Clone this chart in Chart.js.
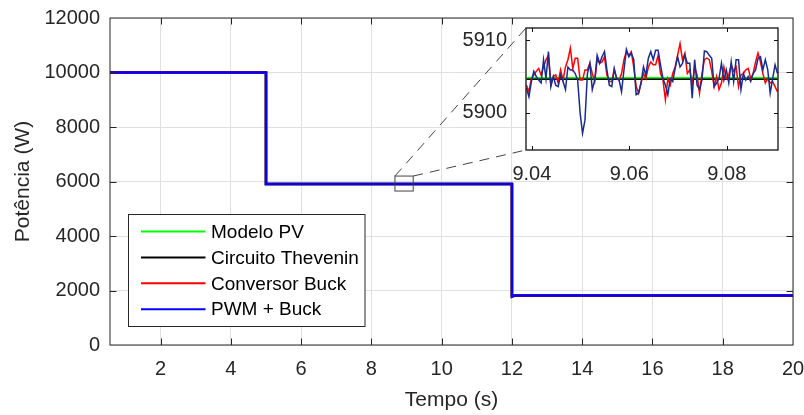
<!DOCTYPE html>
<html><head><meta charset="utf-8">
<script src="https://cdn.jsdelivr.net/npm/chart.js@4/dist/chart.umd.min.js"></script>
<style>
html,body{margin:0;padding:0;background:#fff;}
#wrap{position:relative;width:804px;height:415px;overflow:hidden;}
#main{position:absolute;left:0;top:0;}
#inset{position:absolute;left:460px;top:16px;}
</style></head><body>
<div id="wrap"><canvas id="main" width="804" height="415"></canvas><canvas id="inset" width="330" height="190"></canvas></div>
<script>
// ---------- data ----------
const seriesNames = ['Modelo PV', 'Circuito Thevenin', 'Conversor Buck', 'PWM + Buck'];
const stepTime = [0.5, 5.0, 5.0, 12.0, 12.0, 12.1, 20.0];
const pvModel  = [10000, 10000, 5904.8, 5904.8, 1820, 1820, 1820];
const thevenin = [10000, 10000, 5904.6, 5904.6, 1818, 1818, 1818];
const buck     = [10000, 10000, 5905.0, 5905.0, 1775, 1820, 1820];
const pwmBuck  = [10000, 10000, 5905.0, 5905.0, 1770, 1820, 1820];

const mainXTicks = [2, 4, 6, 8, 10, 12, 14, 16, 18, 20];
const mainYTicks = [0, 2000, 4000, 6000, 8000, 10000, 12000];
const insetXTicks = [9.04, 9.06, 9.08];
const insetYTicks = [5900, 5910];

const insetTime = [
 9.0389, 9.0394, 9.0399, 9.0404, 9.0409, 9.0414, 9.0419, 9.0424, 9.0429, 9.0434,
 9.0439, 9.0444, 9.0449, 9.0454, 9.0459, 9.0464, 9.0469, 9.0474, 9.0479, 9.0484,
 9.0489, 9.0494, 9.0499, 9.0504, 9.0509, 9.0514, 9.0519, 9.0524, 9.0529, 9.0534,
 9.0539, 9.0544, 9.0549, 9.0554, 9.0559, 9.0564, 9.0569, 9.0574, 9.0579, 9.0584,
 9.0589, 9.0594, 9.0599, 9.0604, 9.0609, 9.0614, 9.0619, 9.0624, 9.0629, 9.0634,
 9.0639, 9.0644, 9.0649, 9.0654, 9.0659, 9.0664, 9.0669, 9.0674, 9.0679, 9.0684,
 9.0689, 9.0694, 9.0699, 9.0704, 9.0709, 9.0714, 9.0719, 9.0724, 9.0729, 9.0734,
 9.0739, 9.0744, 9.0749, 9.0754, 9.0759, 9.0764, 9.0769, 9.0774, 9.0779, 9.0784,
 9.0789, 9.0794, 9.0799, 9.0804, 9.0809, 9.0814, 9.0819, 9.0824, 9.0829, 9.0834,
 9.0839, 9.0844, 9.0849, 9.0854, 9.0859, 9.0864, 9.0869, 9.0874, 9.0879, 9.0884,
 9.0889, 9.0894, 9.0899, 9.0904
];
const insetPV = [5904.8, 5904.8];
const insetThevenin = [5904.6, 5904.6];
const insetBuck = [
 5903.8, 5902.9, 5904.7, 5905.2, 5905.7, 5906.1, 5905.2, 5906.3, 5907.3, 5907.9,
 5903.8, 5905.0, 5905.2, 5904.1, 5905.9, 5904.5, 5906.3, 5907.3, 5908.9, 5906.1,
 5907.5, 5907.5, 5904.5, 5904.5, 5905.9, 5905.9, 5906.8, 5905.4, 5904.3, 5907.3,
 5906.8, 5907.0, 5907.7, 5905.2, 5904.3, 5904.3, 5905.9, 5904.7, 5904.5, 5905.4,
 5907.3, 5908.4, 5907.9, 5908.4, 5906.3, 5903.6, 5902.7, 5904.1, 5905.4, 5904.7,
 5906.3, 5907.0, 5906.6, 5906.6, 5907.9, 5905.4, 5904.5, 5901.8, 5904.7, 5903.8,
 5905.4, 5906.3, 5907.9, 5909.5, 5907.3, 5908.2, 5905.4, 5905.9, 5903.8, 5906.3,
 5905.2, 5902.7, 5905.4, 5907.3, 5907.5, 5907.3, 5905.7, 5903.6, 5905.0, 5903.2,
 5904.1, 5906.3, 5904.7, 5905.2, 5906.6, 5905.7, 5906.3, 5903.6, 5905.2, 5905.4,
 5905.9, 5906.1, 5904.7, 5905.4, 5907.0, 5908.2, 5907.0, 5905.4, 5904.1, 5904.7,
 5904.1, 5904.3, 5903.6, 5902.9
];
const insetPwmBuck = [
 5903.4, 5902.2, 5904.3, 5905.7, 5905.0, 5904.5, 5904.1, 5907.3, 5904.7, 5908.4,
 5903.6, 5905.0, 5903.8, 5903.6, 5905.2, 5904.3, 5903.2, 5906.3, 5905.9, 5905.9,
 5905.4, 5904.5, 5900.0, 5897.2, 5899.0, 5905.4, 5906.8, 5903.2, 5904.5, 5907.9,
 5906.8, 5907.7, 5908.4, 5905.9, 5903.8, 5903.6, 5906.1, 5904.7, 5904.5, 5902.9,
 5905.9, 5908.7, 5907.7, 5908.2, 5907.3, 5902.5, 5902.7, 5904.1, 5906.3, 5905.2,
 5907.5, 5908.4, 5907.3, 5908.6, 5908.6, 5906.6, 5904.7, 5903.8, 5902.5, 5904.7,
 5904.3, 5906.1, 5907.7, 5906.3, 5906.8, 5907.9, 5906.8, 5906.8, 5902.0, 5907.3,
 5903.8, 5903.2, 5904.5, 5908.5, 5908.4, 5907.9, 5907.5, 5903.6, 5904.1, 5904.7,
 5906.8, 5904.5, 5905.9, 5904.1, 5907.0, 5904.3, 5907.3, 5907.3, 5903.2, 5905.4,
 5904.5, 5905.0, 5904.3, 5905.4, 5905.9, 5907.5, 5907.7, 5905.9, 5907.3, 5905.9,
 5902.7, 5904.7, 5906.6, 5905.4
];
// zoom region marked on the main plot (data units)
const zoomRectX = [8.67, 9.19];
const zoomRectY = [5650, 6200];

// ---------- styles ----------
const FONT = '"Liberation Sans", Arial, Helvetica, sans-serif';
const AX = '#262626';
const colors = ['#00ff00', '#000000', '#ff0000', '#0000ff'];

function pts(xs, ys) { return ys.map((v, i) => ({ x: xs[i], y: v })); }
function fixedTicks(values) { return function (scale) { scale.ticks = values.map(v => ({ value: v })); }; }
function fitX(h) { return s => { s.height = h; s.paddingLeft = 0; s.paddingRight = 0; }; }
function fitY(w) { return s => { s.width = w; s.paddingTop = 0; s.paddingBottom = 0; }; }

function boxPlugin(name, len, color, lw, fill) {
  return {
    id: 'box_' + name,
    beforeDraw(chart) {
      if (!fill) return;
      const a = chart.chartArea, ctx = chart.ctx;
      ctx.save(); ctx.fillStyle = '#ffffff';
      ctx.fillRect(a.left, a.top, a.right - a.left, a.bottom - a.top);
      ctx.restore();
    },
    afterDatasetsDraw(chart) {
      const { ctx, chartArea: a, scales } = chart;
      const xs = scales.x, ys = scales.y;
      ctx.save();
      ctx.strokeStyle = color; ctx.lineWidth = 1;
      ctx.beginPath();
      xs.ticks.forEach(t => {
        const px = Math.round(xs.getPixelForValue(t.value)) + 0.5;
        if (px <= a.left + 1 || px >= a.right - 1) return;
        ctx.moveTo(px, a.bottom); ctx.lineTo(px, a.bottom - len);
        ctx.moveTo(px, a.top); ctx.lineTo(px, a.top + len);
      });
      ys.ticks.forEach(t => {
        const py = Math.round(ys.getPixelForValue(t.value)) + 0.5;
        if (py <= a.top + 1 || py >= a.bottom - 1) return;
        ctx.moveTo(a.left, py); ctx.lineTo(a.left + len, py);
        ctx.moveTo(a.right, py); ctx.lineTo(a.right - len, py);
      });
      ctx.stroke();
      ctx.lineWidth = lw;
      ctx.strokeRect(a.left, a.top, a.right - a.left, a.bottom - a.top);
      ctx.restore();
    }
  };
}

// ---------- inset chart ----------
const insetCanvas = document.getElementById('inset');
const insetChart = new Chart(insetCanvas, {
  type: 'line',
  data: {
    datasets: [
      { label: seriesNames[0], data: pts([insetTime[0], insetTime[insetTime.length - 1]], insetPV), borderColor: colors[0], borderWidth: 2, order: 4 },
      { label: seriesNames[1], data: pts([insetTime[0], insetTime[insetTime.length - 1]], insetThevenin), borderColor: colors[1], borderWidth: 1.5, order: 3 },
      { label: seriesNames[2], data: pts(insetTime, insetBuck), borderColor: colors[2], borderWidth: 1.5, order: 2 },
      { label: seriesNames[3], data: pts(insetTime, insetPwmBuck), borderColor: '#1a2b8f', borderWidth: 1.5, order: 1 }
    ]
  },
  options: {
    responsive: false, animation: false, devicePixelRatio: 1,
    layout: { padding: { top: 12, right: 12, left: 0, bottom: 0 } },
    elements: { point: { radius: 0 }, line: { tension: 0, fill: false } },
    plugins: { legend: { display: false }, tooltip: { enabled: false } },
    scales: {
      x: {
        type: 'linear', min: 9.0388, max: 9.0905,
        afterBuildTicks: fixedTicks(insetXTicks),
        afterFit: fitX(56),
        grid: { display: false }, border: { display: false },
        ticks: { padding: 4, color: AX, font: { family: FONT, size: 20 }, maxRotation: 0, autoSkip: false, callback: v => Number(v).toFixed(2) }
      },
      y: {
        type: 'linear', min: 5894.9, max: 5911.65,
        afterBuildTicks: fixedTicks(insetYTicks),
        afterFit: fitY(66),
        grid: { display: false }, border: { display: false },
        ticks: { padding: 11, color: AX, font: { family: FONT, size: 20 }, autoSkip: false, callback: v => String(v) }
      }
    }
  },
  plugins: [boxPlugin('inset', 4, '#111111', 1.3, true)]
});

// ---------- main chart ----------
const zoomPlugin = {
  id: 'zoomLinks',
  afterDatasetsDraw(chart) {
    const { ctx, scales: { x, y } } = chart;
    const rx0 = x.getPixelForValue(zoomRectX[0]), rx1 = x.getPixelForValue(zoomRectX[1]);
    const ry0 = y.getPixelForValue(zoomRectY[0]), ry1 = y.getPixelForValue(zoomRectY[1]);
    const ia = insetChart.chartArea;
    const ix = insetCanvas.offsetLeft + ia.left, iTop = insetCanvas.offsetTop + ia.top, iBot = insetCanvas.offsetTop + ia.bottom;
    ctx.save();
    ctx.strokeStyle = '#444444'; ctx.lineWidth = 1;
    ctx.strokeRect(rx0, ry1, rx1 - rx0, ry0 - ry1);
    ctx.setLineDash([10, 7]);
    ctx.beginPath();
    ctx.moveTo(rx0, ry1); ctx.lineTo(ix, iTop);
    ctx.moveTo(rx1, ry1); ctx.lineTo(ix, iBot);
    ctx.stroke();
    ctx.restore();
  }
};

const legendPlugin = {
  id: 'legendBox',
  afterDraw(chart) {
    const ctx = chart.ctx, a = chart.chartArea;
    const x = a.left + 18.5, y = a.bottom - 130.5, w = 236.5, h = 112;
    ctx.save();
    ctx.fillStyle = '#ffffff'; ctx.fillRect(x, y, w, h);
    ctx.strokeStyle = AX; ctx.lineWidth = 1; ctx.strokeRect(x, y, w, h);
    ctx.font = '19px ' + FONT; ctx.textBaseline = 'middle'; ctx.textAlign = 'left';
    chart.data.datasets.forEach((ds, i) => {
      const yy = y + 17 + i * 25.9;
      ctx.strokeStyle = ds.borderColor; ctx.lineWidth = 2;
      ctx.beginPath(); ctx.moveTo(x + 12.5, yy); ctx.lineTo(x + 77, yy); ctx.stroke();
      ctx.fillStyle = '#000000';
      ctx.fillText(ds.label, x + 82.5, yy + 1);
    });
    ctx.restore();
  }
};

const mainChart = new Chart(document.getElementById('main'), {
  type: 'line',
  data: {
    datasets: [
      { label: seriesNames[0], data: pts(stepTime, pvModel), borderColor: colors[0], borderWidth: 2.5, order: 4 },
      { label: seriesNames[1], data: pts(stepTime, thevenin), borderColor: colors[1], borderWidth: 2.5, order: 3 },
      { label: seriesNames[2], data: pts(stepTime, buck), borderColor: colors[2], borderWidth: 2.5, order: 2 },
      { label: seriesNames[3], data: pts(stepTime, pwmBuck), borderColor: colors[3], borderWidth: 2.5, order: 1 }
    ]
  },
  options: {
    responsive: false, animation: false, devicePixelRatio: 1,
    layout: { padding: { top: 18, right: 11, left: 0, bottom: 0 } },
    elements: { point: { radius: 0 }, line: { tension: 0, fill: false } },
    plugins: { legend: { display: false }, tooltip: { enabled: false } },
    scales: {
      x: {
        type: 'linear', min: 0.56, max: 20,
        afterBuildTicks: fixedTicks(mainXTicks),
        afterFit: fitX(70),
        grid: { color: '#e0e0e0', lineWidth: 1, drawTicks: false }, border: { display: false },
        ticks: { padding: 12, color: AX, font: { family: FONT, size: 20 }, maxRotation: 0, autoSkip: false, callback: v => String(v) },
        title: { display: true, text: 'Tempo (s)', color: AX, font: { family: FONT, size: 21 }, padding: { top: 0, bottom: 2 } }
      },
      y: {
        type: 'linear', min: 0, max: 12000,
        afterBuildTicks: fixedTicks(mainYTicks),
        afterFit: fitY(110),
        grid: { color: '#e0e0e0', lineWidth: 1, drawTicks: false }, border: { display: false },
        ticks: { padding: 10, color: AX, font: { family: FONT, size: 20 }, autoSkip: false, callback: v => String(v) },
        title: { display: true, text: 'Potência (W)', color: AX, font: { family: FONT, size: 21 }, padding: { top: 11, bottom: 0 } }
      }
    }
  },
  plugins: [boxPlugin('main', 6.5, AX, 1, false), zoomPlugin, legendPlugin]
});
</script>
</body></html>
